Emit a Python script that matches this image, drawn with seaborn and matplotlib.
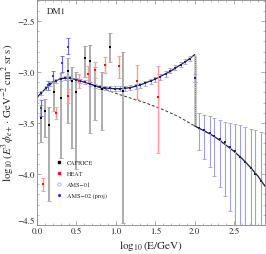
import matplotlib
matplotlib.use("Agg")
import matplotlib.pyplot as plt
from matplotlib.lines import Line2D
from matplotlib.ticker import MultipleLocator
import numpy as np
import pandas as pd
import seaborn as sns

# total model curve (signal + background), two branches around the cutoff
curve_lo_x = [0.0, 0.1, 0.2, 0.3, 0.4, 0.5, 0.6, 0.7, 0.8, 0.9, 1.0, 1.1, 1.2, 1.3,
              1.4, 1.5, 1.6, 1.7, 1.8, 1.9, 2.0]
curve_lo_y = [-3.25, -3.17, -3.10, -3.065, -3.06, -3.075, -3.10, -3.125, -3.15, -3.16,
              -3.165, -3.163, -3.15, -3.13, -3.10, -3.07, -3.03, -2.99, -2.94, -2.89, -2.83]
curve_hi_x = [2.0, 2.1, 2.2, 2.3, 2.4, 2.5, 2.6, 2.7, 2.8, 2.89]
curve_hi_y = [-3.53, -3.57, -3.61, -3.66, -3.72, -3.78, -3.85, -3.93, -4.02, -4.12]
# background only
bkg_x = [0.7, 0.8, 0.9, 1.0, 1.2, 1.4, 1.6, 1.8, 2.0]
bkg_y = [-3.125, -3.155, -3.18, -3.21, -3.26, -3.31, -3.37, -3.44, -3.53]

caprice_x = [0.05, 0.10, 0.15, 0.22, 0.30, 0.39, 0.45, 0.50, 0.61, 0.67, 0.74, 0.82, 0.93, 1.09]
caprice_y = [-3.45, -3.38, -3.52, -3.20, -3.26, -2.99, -3.09, -3.20, -2.86, -2.89, -3.14, -3.17, -2.76, -3.19]
caprice_lo = [-3.69, -3.64, -4.27, -3.38, -3.84, -3.50, -3.75, -3.95, -3.05, -3.60, -3.47, -3.57, -2.90, -4.48]
caprice_hi = [-3.32, -3.27, -3.34, -3.10, -3.01, -2.86, -2.95, -3.00, -2.75, -2.74, -2.95, -3.00, -2.62, -2.80]

heat_x = [0.08, 0.24, 0.39, 0.53, 0.65, 0.74, 0.86, 1.04, 1.27, 1.53]
heat_y = [-4.10, -3.40, -3.24, -3.09, -3.02, -2.98, -2.93, -2.94, -3.09, -3.25]
heat_lo = [-4.17, -3.46, -3.30, -3.16, -3.10, -3.06, -3.01, -3.06, -3.27, -3.79]
heat_hi = [-4.04, -3.34, -3.17, -3.02, -2.94, -2.90, -2.85, -2.84, -2.93, -2.94]

ams01_x = [0.05, 0.14, 0.20, 0.32, 0.39]
ams01_y = [-3.35, -3.13, -3.04, -2.91, -2.76]
ams01_lo = [-3.43, -3.18, -3.09, -3.00, -2.82]
ams01_hi = [-3.28, -3.09, -2.99, -2.84, -2.67]

ams02_x = [0.05, 0.11, 0.17, 0.24, 0.30, 0.36, 0.42, 0.49, 0.55, 0.61, 0.67, 0.74,
           0.80, 0.86, 0.93, 0.99, 1.05, 1.12, 1.18, 1.25, 1.31, 1.37, 1.44, 1.50,
           1.56, 1.63, 1.69, 1.75, 1.82, 1.88, 1.94, 2.00,
           2.06, 2.12, 2.19, 2.25, 2.32, 2.38, 2.45, 2.51, 2.58, 2.64, 2.71, 2.77, 2.84]
ams02_y = [-3.21, -3.16, -3.12, -3.09, -3.07, -3.06, -3.06, -3.075, -3.09, -3.10, -3.12, -3.135,
           -3.15, -3.16, -3.16, -3.165, -3.165, -3.16, -3.155, -3.14, -3.13, -3.11, -3.09, -3.07,
           -3.05, -3.02, -2.99, -2.96, -2.93, -2.90, -2.87, -3.06,
           -3.55, -3.57, -3.60, -3.63, -3.66, -3.69, -3.74, -3.78, -3.83, -3.88, -3.94, -4.00, -4.07]
ams02_lo = [-3.23, -3.18, -3.14, -3.11, -3.09, -3.08, -3.08, -3.095, -3.11, -3.12, -3.14, -3.155,
            -3.17, -3.18, -3.185, -3.19, -3.19, -3.185, -3.18, -3.165, -3.155, -3.135, -3.115, -3.095,
            -3.075, -3.045, -3.015, -2.985, -2.955, -2.925, -2.895, -3.10,
            -3.77, -3.85, -3.93, -4.02, -4.13, -4.22, -4.36, -4.60, -4.60, -4.60, -4.60, -4.60, -4.60]
ams02_hi = [-3.19, -3.14, -3.10, -3.07, -3.05, -3.04, -3.04, -3.055, -3.07, -3.08, -3.10, -3.115,
            -3.13, -3.14, -3.14, -3.14, -3.14, -3.135, -3.13, -3.115, -3.105, -3.085, -3.065, -3.045,
            -3.025, -2.995, -2.965, -2.935, -2.905, -2.875, -2.845, -3.02,
            -3.40, -3.42, -3.43, -3.45, -3.47, -3.49, -3.50, -3.51, -3.52, -3.54, -3.56, -3.57, -3.59]

sns.set_theme(style="ticks")
plt.rcParams["font.family"] = ["STIXGeneral", "DejaVu Serif"]
plt.rcParams["mathtext.fontset"] = "stix"

fig = plt.figure(figsize=(2.66, 2.55), dpi=100)
ax = fig.add_axes([0.139, 0.114, 0.857, 0.884])

frame = "#888888"
for s in ax.spines.values():
    s.set_color(frame)
    s.set_linewidth(0.6)

# curves
lo = pd.DataFrame({"x": curve_lo_x, "y": curve_lo_y})
hi = pd.DataFrame({"x": curve_hi_x, "y": curve_hi_y})
bk = pd.DataFrame({"x": bkg_x, "y": bkg_y})
sns.lineplot(data=bk, x="x", y="y", ax=ax, color="#333333", lw=0.7, ls=(0, (3, 2)), sort=False)
sns.lineplot(data=lo, x="x", y="y", ax=ax, color="#1a1a40", lw=0.9, sort=False)
sns.lineplot(data=hi, x="x", y="y", ax=ax, color="#1a1a40", lw=0.9, sort=False)
ax.vlines(curve_lo_x[-1], curve_hi_y[0], curve_lo_y[-1], color="#c4c4c4", lw=2.0, zorder=1)
ax.vlines(curve_lo_x[-1], curve_hi_y[0], curve_lo_y[-1], color="#555555", lw=0.6,
          linestyles=(0, (1, 1.5)), zorder=2)


def bars(xs, ys, los, his, color, lw, cap=1.2):
    yerr = [np.array(ys) - np.array(los), np.array(his) - np.array(ys)]
    ax.errorbar(xs, ys, yerr=yerr, fmt="none", ecolor=color, elinewidth=lw,
                capsize=cap, capthick=0.6, zorder=3)


bars(caprice_x, caprice_y, caprice_lo, caprice_hi, "#a0a0a0", 1.2)
bars(heat_x, heat_y, heat_lo, heat_hi, "#ff9898", 1.0)
bars(ams01_x, ams01_y, ams01_lo, ams01_hi, "#6666ee", 0.8)
bars(ams02_x, ams02_y, ams02_lo, ams02_hi, "#a0a0da", 0.8)

sns.scatterplot(x=ams02_x, y=ams02_y, ax=ax, color="#20206a", marker="s", s=1.2,
                linewidth=0, zorder=4)
sns.scatterplot(x=ams01_x, y=ams01_y, ax=ax, color="#3333dd", marker="s", s=1.5,
                linewidth=0, zorder=4)
sns.scatterplot(x=heat_x, y=heat_y, ax=ax, color="#ee1111", marker="s", s=2.2,
                linewidth=0, zorder=5)
sns.scatterplot(x=caprice_x, y=caprice_y, ax=ax, color="black", marker="s", s=2.2,
                linewidth=0, zorder=5)

ax.set_xlim(0, 2.89)
ax.set_ylim(-4.5, -2.29)
ax.xaxis.set_major_locator(MultipleLocator(0.5))
ax.xaxis.set_minor_locator(MultipleLocator(0.1))
ax.yaxis.set_major_locator(MultipleLocator(0.5))
ax.yaxis.set_minor_locator(MultipleLocator(0.1))
ax.tick_params(which="both", direction="in", top=True, right=True, color=frame,
               labelsize=6.5, pad=1.5)
ax.tick_params(which="major", length=3, width=0.5)
ax.tick_params(which="minor", length=1.5, width=0.4)
ax.set_xticklabels([f"{v:.1f}" for v in ax.get_xticks()])
ax.set_yticklabels([f"{v:.1f}".replace("-", "\u2212") for v in ax.get_yticks()])
for t in ax.get_yticklabels():
    if t.get_text() == "\u22124.5":
        t.set_va("bottom")

ax.set_xlabel(r"$\log_{10}$(E/GeV)", fontsize=8, labelpad=2)
ax.set_ylabel(r"$\log_{10}(E^3\phi_{e+}\cdot\,$GeV$^{-2}$ cm$^2$ sr s)", fontsize=7.8,
              labelpad=1)
ax.text(0.045, 0.965, "DM1", transform=ax.transAxes, fontsize=6.5, va="top")

handles = [
    Line2D([], [], ls="", marker="s", ms=1.6, color="black"),
    Line2D([], [], ls="", marker="s", ms=1.6, color="#ee1111"),
    Line2D([], [], ls="", marker="o", ms=2.4, mfc="none", mec="#9999ee", mew=0.5),
    Line2D([], [], ls="", marker="s", ms=1.0, color="#2222cc"),
]
labels = ["CAPRICE", "HEAT", "AMS\u221201", "AMS\u221202 (proj)"]
ax.legend(handles, labels, loc="lower left", bbox_to_anchor=(0.07, 0.105), frameon=False,
          fontsize=4.5, handlelength=1.0, handletextpad=0.8, labelspacing=0.9,
          borderpad=0)

fig.savefig("out.png", dpi=100)
